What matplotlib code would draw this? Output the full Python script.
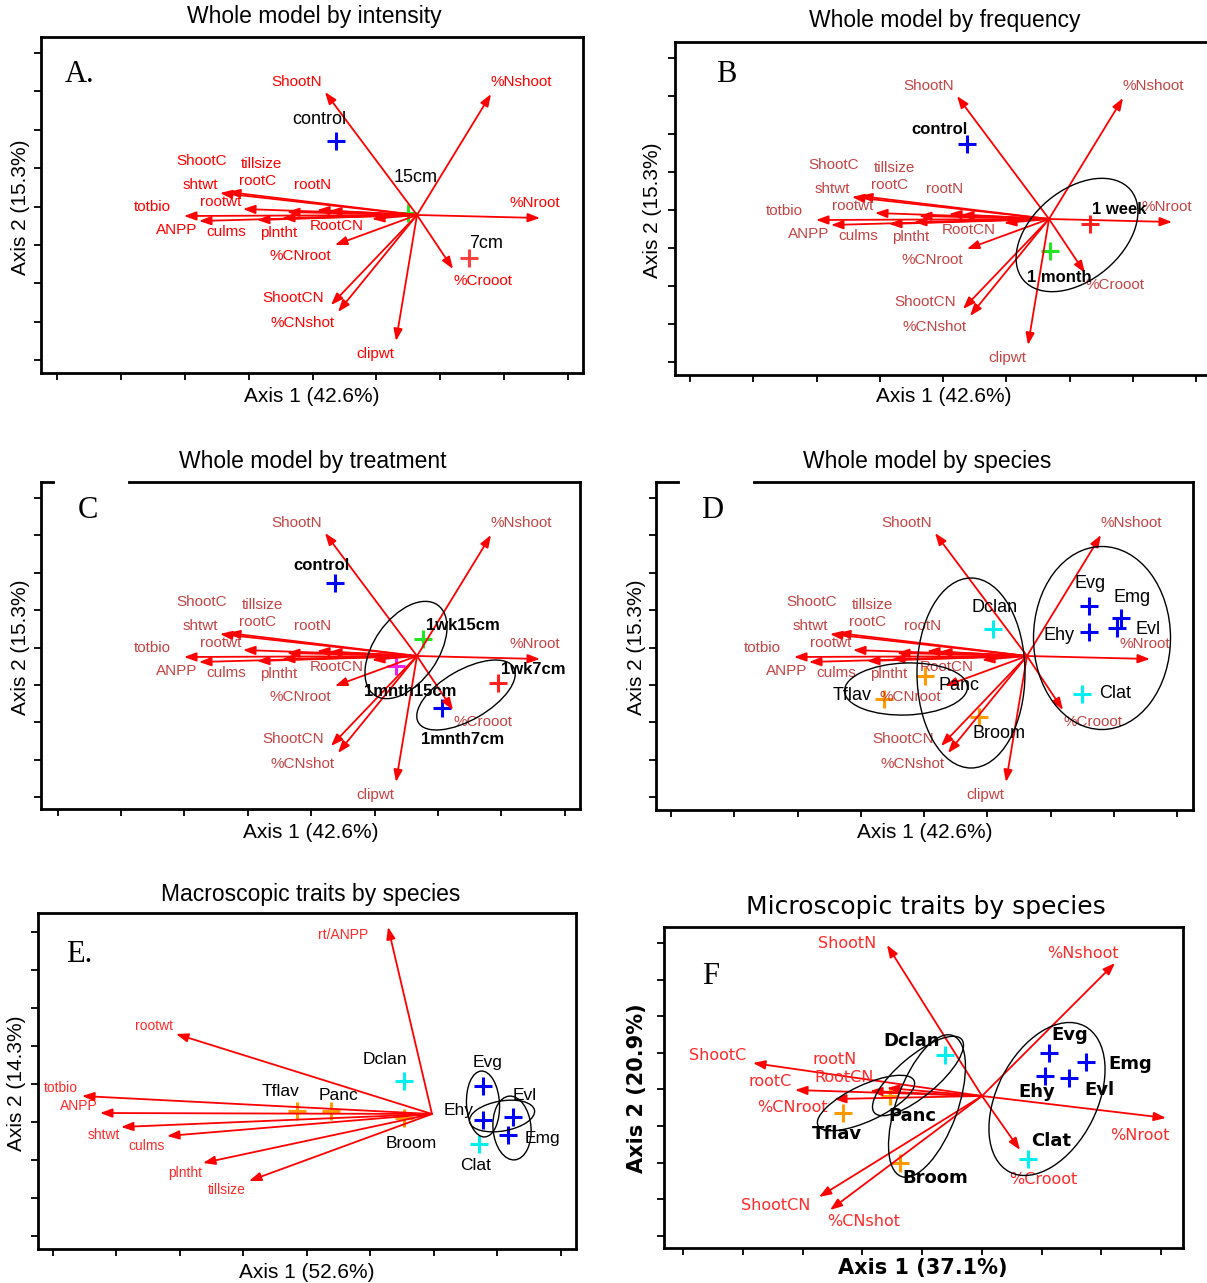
import matplotlib.pyplot as plt
from matplotlib.patches import Ellipse
import numpy as np

W, H = 1207, 1283

# Whole-model biplot scores (shared by panels A-D), screen units from the origin
WHOLE_VARS = ['ShootN', '%Nshoot', '%Nroot', '%Crooot', 'clipwt', '%CNshot', 'ShootCN',
              '%CNroot', 'RootCN', 'plntht', 'culms', 'ANPP', 'totbio', 'rootwt',
              'shtwt', 'ShootC', 'tillsize', 'rootC', 'rootN']
WHOLE_X = [-92, 74, 123, 36, -21, -79, -86, -82, -45, -135, -160, -218, -233, -174, -197, -189, -130, -100, -88]
WHOLE_Y = [123, 121, -3, -54, -126, -97, -90, -30, -4, -3, -5, -6, -1, 6, 22, 23, 3, 5, 4]

# group centroids
A_GROUPS = ['control', '15cm', '7cm']
A_GX = [-81, -9, 52]
A_GY = [74, 2, -43]

B_GROUPS = ['control', '1 week', '1 month']
B_GX = [-82, 41, 1]
B_GY = [75, -5, -32]

C_GROUPS = ['control', '1wk15cm', '1mnth15cm', '1wk7cm', '1mnth7cm']
C_GX = [-82, 6, -21, 81, 25]
C_GY = [73, 17, -10, -27, -52]

SPECIES = ['Dclan', 'Evg', 'Emg', 'Evl', 'Ehy', 'Clat', 'Panc', 'Tflav', 'Broom']
D_GX = [-34, 62, 94, 90, 62, 55, -102, -143, -48]
D_GY = [27, 50, 38, 28, 24, -38, -20, -43, -61]

# macroscopic traits
E_VARS = ['rt/ANPP', 'rootwt', 'totbio', 'ANPP', 'shtwt', 'culms', 'plntht', 'tillsize']
E_X = [-44, -256, -350, -332, -311, -265, -229, -183]
E_Y = [187, 80, 18, 1, -13, -22, -49, -67]
E_GX = [-28, 51, 76, 81, 51, 47, -101, -135, -28]
E_GY = [33, 28, -21, -3, -6, -30, 3, 3, -4]

# microscopic traits
F_VARS = ['ShootN', '%Nshoot', '%Nroot', '%Crooot', 'ShootCN', '%CNshot', 'ShootC',
          'rootC', '%CNroot', 'RootCN', 'rootN']
F_X = [-95, 133, 184, 38, -163, -152, -229, -187, -148, -112, -95]
F_Y = [151, 133, -22, -54, -101, -114, 33, 6, -3, 5, 8]
F_GX = [-37, 67, 104, 87, 63, 46, -92, -139, -82]
F_GY = [41, 43, 34, 18, 20, -63, 0, -17, -67]

BLUE, GREEN, RED, MAG, CYAN, ORANGE = '#0000ff', '#22e622', '#ff2020', '#ee22ee', '#00f0f0', '#ff9a00'
SPECIES_COLORS = [CYAN, BLUE, BLUE, BLUE, BLUE, CYAN, ORANGE, ORANGE, ORANGE]

# label placement (offsets from origin)
WHOLE_LX = [-120, 104, 118, 66, -42, -114, -124, -117, -80, -138, -191, -240, -265, -196, -217, -215, -155, -159, -104]
WHOLE_LY = [133, 133, 12, -66, -139, -108, -83, -41, -11, -18, -17, -15, 8, 13, 30, 54, 51, 34, 30]
E_LX = [-89, -278, -371, -353, -328, -285, -247, -205]
E_LY = [179, 88, 26, 8, -21, -32, -59, -76]
F_LX = [-135, 101, 158, 61, -206, -118, -264, -212, -190, -138, -147]
F_LY = [153, 143, -40, -83, -110, -126, 41, 14, -12, 19, 36]

SANS = 'Liberation Sans'
SERIF = 'Liberation Serif'

fig = plt.figure(figsize=(W / 100, H / 100), dpi=100)


def ftext(x, y, s, **kw):
    fig.text(x / W, 1 - y / H, s, ha='center', va='center', **kw)


def panel(box, origin, xt, yt):
    left, top, right, bottom = box
    ox, oy = origin
    ax = fig.add_axes([left / W, 1 - bottom / H, (right - left) / W, (bottom - top) / H])
    ax.set_xlim(left - ox, right - ox)
    ax.set_ylim(oy - bottom, oy - top)
    ax.set_xticks(xt[0] + xt[1] * np.arange(9) - ox)
    ax.set_yticks(oy - (yt[0] + yt[1] * np.arange(9)))
    ax.tick_params(direction='out', length=5, width=1.3, labelbottom=False, labelleft=False)
    for sp in ax.spines.values():
        sp.set_linewidth(2)
    return ax


def arrows(ax, xs, ys, names, lx, ly, color, size, family=SANS):
    for x, y in zip(xs, ys):
        ax.annotate('', xy=(x, y), xytext=(0, 0),
                    arrowprops=dict(arrowstyle='-|>,head_length=0.6,head_width=0.22',
                                    color='#ff0000', lw=1.3, mutation_scale=12,
                                    shrinkA=0, shrinkB=0), zorder=3)
    for n, x, y in zip(names, lx, ly):
        ax.text(x, y, n, color=color, fontsize=size, family=family,
                ha='center', va='center', zorder=4)


def crosses(ax, xs, ys, colors):
    for x, y, c in zip(xs, ys, colors):
        ax.plot(x, y, marker='+', ms=13, mew=2.2, color=c, ls='none', zorder=2)


def group_labels(ax, names, lx, ly, size, weight='normal', family=SANS):
    for n, x, y in zip(names, lx, ly):
        ax.text(x, y, n, fontsize=size, weight=weight, family=family,
                ha='center', va='center', zorder=6)


def ellipses(ax, specs):
    for cx, cy, w, h, ang in specs:
        ax.add_patch(Ellipse((cx, cy), w, h, angle=ang, fill=False, ec='black', lw=1.0, zorder=5))


# ---- A: whole model by intensity
ax = panel((41, 37, 583, 373), (417, 215), (57, 63.9), (53, 38.4))
crosses(ax, A_GX, A_GY, [BLUE, GREEN, '#ff4040'])
arrows(ax, WHOLE_X, WHOLE_Y, WHOLE_VARS, WHOLE_LX, WHOLE_LY, '#ff0000', 11)
group_labels(ax, A_GROUPS, [-98, -1, 69], [95, 38, -29], 13)
ftext(314, 16, 'Whole model by intensity', fontsize=16.5, family=SANS)
ftext(80, 74, 'A.', fontsize=22, family=SERIF)
ftext(312, 397, 'Axis 1 (42.6%)', fontsize=15, family=SANS)
ftext(21, 207, 'Axis 2 (15.3%)', fontsize=15, family=SANS, rotation=90)

# ---- B: whole model by frequency
ax = panel((675, 42, 1212, 375), (1049, 219), (690, 63.25), (58, 38))
crosses(ax, B_GX, B_GY, [BLUE, RED, GREEN])
arrows(ax, WHOLE_X, WHOLE_Y, WHOLE_VARS, WHOLE_LX, WHOLE_LY, '#c44444', 11)
ellipses(ax, [(28, -16, 140, 90, 40)])
group_labels(ax, B_GROUPS, [-110, 70, 10], [89, 9, -58], 12, weight='bold')
ftext(945, 21, 'Whole model by frequency', fontsize=16.5, family=SANS)
ftext(726, 75, 'B', fontsize=22, family=SERIF)
ftext(944, 397, 'Axis 1 (42.6%)', fontsize=15, family=SANS)
ftext(652, 210, 'Axis 2 (15.3%)', fontsize=15, family=SANS, rotation=90)

# ---- C: whole model by treatment
ax = panel((41, 482, 580, 809), (417, 656), (57.5, 63.4), (498, 37.4))
crosses(ax, C_GX, C_GY, [BLUE, GREEN, MAG, RED, BLUE])
arrows(ax, WHOLE_X, WHOLE_Y, WHOLE_VARS, WHOLE_LX, WHOLE_LY, '#c44444', 11)
ellipses(ax, [(-11, 6, 110, 64, 55), (49, -39, 110, 50, 30)])
group_labels(ax, C_GROUPS, [-96, 46, -7, 116, 46], [91, 30, -35, -14, -83], 12, weight='bold')
ax.plot([-360, -291], [656 - 482] * 2, color='white', lw=3, clip_on=False, zorder=7)
ftext(313, 461, 'Whole model by treatment', fontsize=16.5, family=SANS)
ftext(88, 510, 'C', fontsize=22, family=SERIF)
ftext(311, 832, 'Axis 1 (42.6%)', fontsize=15, family=SANS)
ftext(21, 647, 'Axis 2 (15.3%)', fontsize=15, family=SANS, rotation=90)

# ---- D: whole model by species
ax = panel((656, 482, 1193, 810), (1027, 656), (671, 63.25), (498, 37.4))
crosses(ax, D_GX, D_GY, SPECIES_COLORS)
arrows(ax, WHOLE_X, WHOLE_Y, WHOLE_VARS, WHOLE_LX, WHOLE_LY, '#c44444', 11)
ellipses(ax, [(-121, -33, 123, 52, 2), (-56, -17, 108, 190, 0), (75, 18, 137, 183, 0)])
group_labels(ax, SPECIES, [-32, 63, 105, 121, 32, 88, -68, -175, -28],
             [48, 72, 58, 27, 21, -37, -30, -39, -77], 13)
ax.plot([-345, -276], [656 - 482] * 2, color='white', lw=3, clip_on=False, zorder=7)
ftext(927, 461, 'Whole model by species', fontsize=16.5, family=SANS)
ftext(712, 511, 'D', fontsize=22, family=SERIF)
ftext(925, 833, 'Axis 1 (42.6%)', fontsize=15, family=SANS)
ftext(636, 647, 'Axis 2 (15.3%)', fontsize=15, family=SANS, rotation=90)

# ---- E: macroscopic traits
ax = panel((38, 913, 576, 1249), (432, 1114), (53, 63.5), (932, 38))
crosses(ax, E_GX, E_GY, SPECIES_COLORS)
arrows(ax, E_X, E_Y, E_VARS, E_LX, E_LY, '#ff2a2a', 10)
ellipses(ax, [(51, 10, 33, 66, 3), (70, -2, 66, 30, 10), (80, -14, 38, 64, 5)])
group_labels(ax, SPECIES, [-47, 56, 110, 93, 27, 44, -93, -151, -21],
             [54, 51, -25, 18, 4, -51, 18, 23, -30], 12.5)
ftext(311, 894, 'Macroscopic traits by species', fontsize=16.5, family=SANS)
ftext(79, 955, 'E.', fontsize=22, family=SERIF)
ftext(307, 1272, 'Axis 1 (52.6%)', fontsize=15, family=SANS)
ftext(17, 1083, 'Axis 2 (14.3%)', fontsize=15, family=SANS, rotation=90)

# ---- F: microscopic traits
ax = panel((664, 927, 1183, 1248), (982, 1096), (683, 59.75), (943, 36.6))
crosses(ax, F_GX, F_GY, SPECIES_COLORS)
arrows(ax, F_X, F_Y, F_VARS, F_LX, F_LY, '#ff2a2a', 11.5, family='DejaVu Sans')
ellipses(ax, [(65, -3, 164, 100, 63), (-55, -10, 150, 61, 70),
              (-64, 20, 114, 40, 40), (-116, -7, 106, 36, 25)])
group_labels(ax, SPECIES, [-70, 88, 148, 117, 55, 69, -70, -145, -47],
             [55, 61, 32, 6, 4, -45, -20, -38, -82], 13, weight='bold', family='DejaVu Sans')
ftext(926, 907, 'Microscopic traits by species', fontsize=18, family='DejaVu Sans')
ftext(711, 977, 'F', fontsize=22, family=SERIF)
ftext(923, 1268, 'Axis 1 (37.1%)', fontsize=15, family='DejaVu Sans', weight='bold')
ftext(637, 1088, 'Axis 2 (20.9%)', fontsize=15, family='DejaVu Sans', weight='bold', rotation=90)

fig.savefig('out.png', dpi=100)
